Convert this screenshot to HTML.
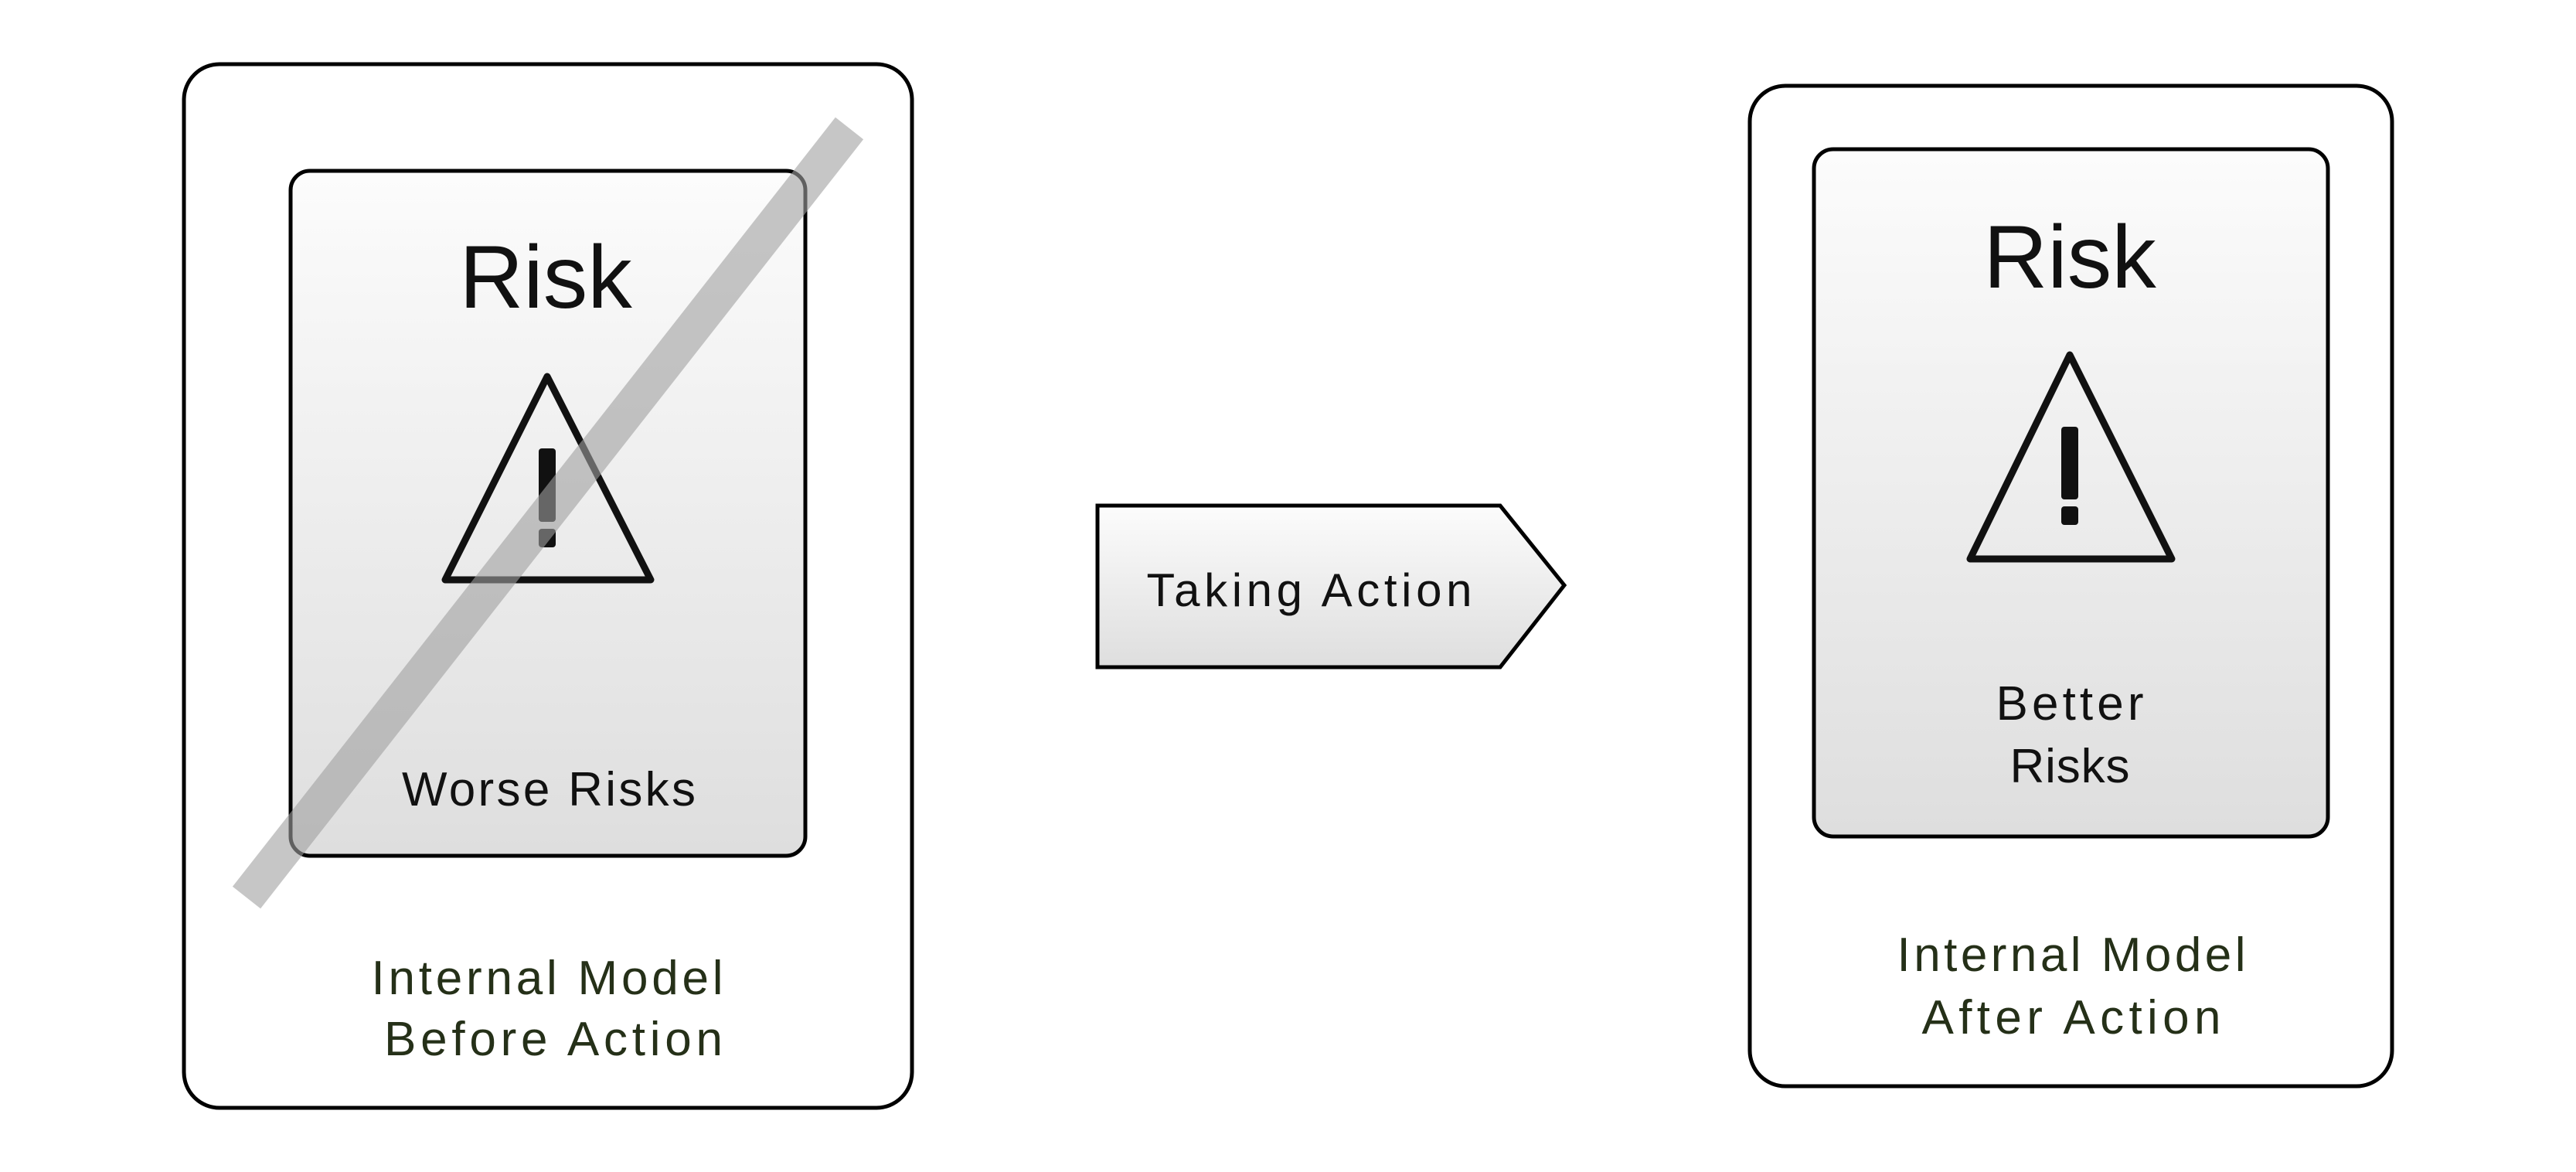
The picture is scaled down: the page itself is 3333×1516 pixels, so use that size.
<!DOCTYPE html>
<html><head><meta charset="utf-8"><style>html,body{margin:0;padding:0;background:#fff}svg{display:block}</style></head>
<body>
<svg width="3333" height="1516" viewBox="0 0 3333 1516" xmlns="http://www.w3.org/2000/svg" font-family="Liberation Sans, sans-serif">
<defs>
<linearGradient id="g" x1="0" y1="0" x2="0" y2="1">
<stop offset="0" stop-color="#fcfcfc"/><stop offset="1" stop-color="#dedede"/>
</linearGradient>
</defs>
<!-- Left -->
<rect x="238" y="83" width="942" height="1350" rx="46" fill="#fff" stroke="#000" stroke-width="5"/>
<rect x="376" y="221" width="666" height="886" rx="25" fill="url(#g)" stroke="#000" stroke-width="5"/>
<text x="706" y="398" font-size="115" text-anchor="middle" fill="#111">Risk</text>
<polygon points="708,487 576,750 842,750" fill="none" stroke="#111" stroke-width="9" stroke-linejoin="round"/>
<rect x="697" y="580" width="22" height="95" rx="4" fill="#111"/>
<rect x="697" y="684" width="22" height="24" rx="4" fill="#111"/>
<text x="710" y="1042" font-size="62" text-anchor="middle" textLength="380" lengthAdjust="spacing" fill="#111">Worse Risks</text>
<line x1="319" y1="1161" x2="1099" y2="166" stroke="#a0a0a0" stroke-opacity="0.6" stroke-width="46"/>
<text x="708" y="1286" font-size="62" text-anchor="middle" textLength="455" lengthAdjust="spacing" fill="#253018">Internal Model</text>
<text x="716" y="1365" font-size="62" text-anchor="middle" textLength="438" lengthAdjust="spacing" fill="#253018">Before Action</text>
<!-- Arrow -->
<polygon points="1420,654 1941,654 2024,757 1941,863 1420,863" fill="url(#g)" stroke="#000" stroke-width="5"/>
<text x="1694" y="784" font-size="60" text-anchor="middle" textLength="421" lengthAdjust="spacing" fill="#111">Taking Action</text>
<!-- Right -->
<rect x="2264" y="111" width="831" height="1294" rx="46" fill="#fff" stroke="#000" stroke-width="5"/>
<rect x="2347" y="193" width="665" height="889" rx="25" fill="url(#g)" stroke="#000" stroke-width="5"/>
<text x="2678" y="372" font-size="115" text-anchor="middle" fill="#111">Risk</text>
<polygon points="2678,459 2549,723 2810,723" fill="none" stroke="#111" stroke-width="9" stroke-linejoin="round"/>
<rect x="2667" y="552" width="22" height="94" rx="4" fill="#111"/>
<rect x="2667" y="655" width="22" height="24" rx="4" fill="#111"/>
<text x="2678" y="931" font-size="62" text-anchor="middle" textLength="191" lengthAdjust="spacing" fill="#111">Better</text>
<text x="2678" y="1012" font-size="62" text-anchor="middle" textLength="155" lengthAdjust="spacing" fill="#111">Risks</text>
<text x="2680" y="1256" font-size="62" text-anchor="middle" textLength="451" lengthAdjust="spacing" fill="#253018">Internal Model</text>
<text x="2680" y="1337" font-size="62" text-anchor="middle" textLength="387" lengthAdjust="spacing" fill="#253018">After Action</text>
</svg>
</body></html>
